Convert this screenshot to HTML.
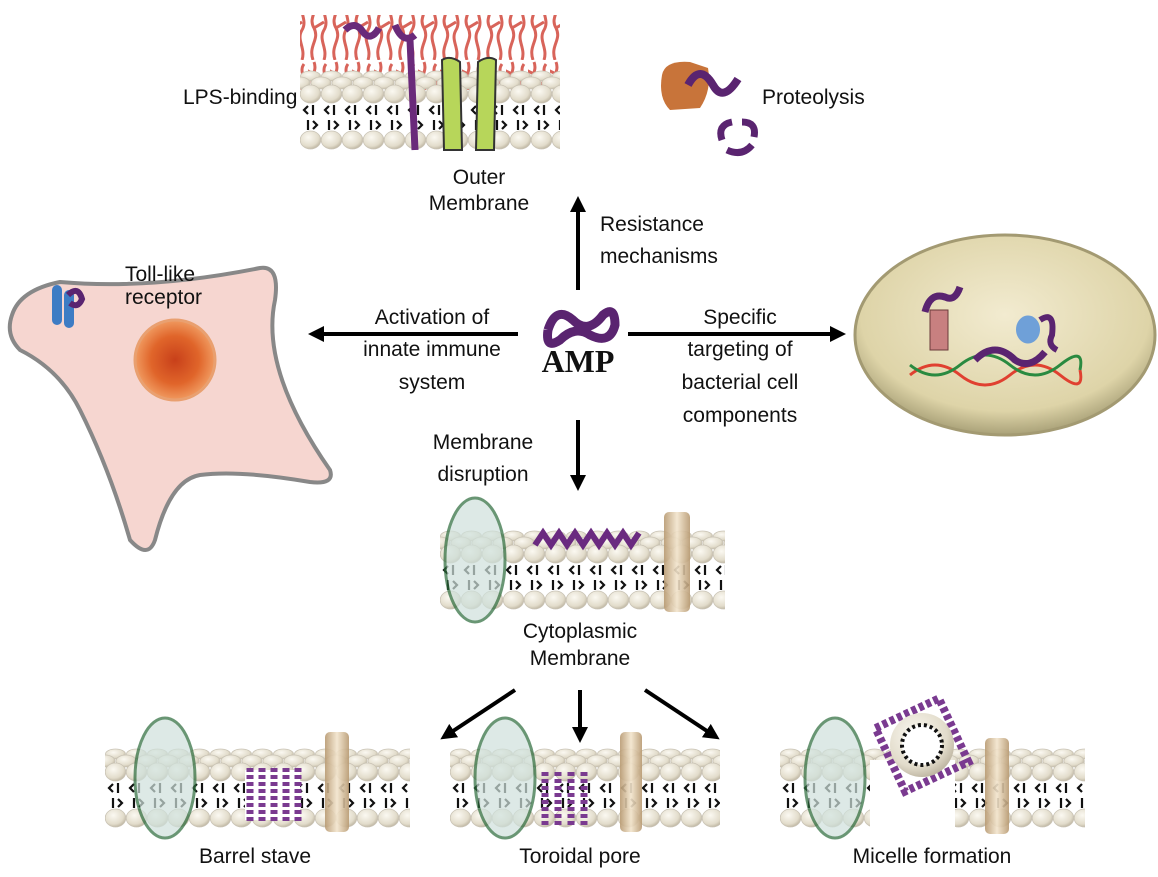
<!DOCTYPE html>
<html><head><meta charset="utf-8"><style>
html,body{margin:0;padding:0;background:#fff;}
svg{display:block;}
text{font-family:"Liberation Sans",sans-serif;font-size:21px;fill:#111;}
</style></head><body>
<svg width="1158" height="877" viewBox="0 0 1158 877" xmlns="http://www.w3.org/2000/svg">
<defs>
<radialGradient id="lip" cx="40%" cy="35%" r="70%"><stop offset="0" stop-color="#fbf9f2"/><stop offset="0.7" stop-color="#e2dccb"/><stop offset="1" stop-color="#b9b09c"/></radialGradient>
<pattern id="mem" width="21" height="80" patternUnits="userSpaceOnUse">
<ellipse cx="10.5" cy="6" rx="10" ry="5" fill="url(#lip)" stroke="#c9c3b5" stroke-width="0.8"/>
<ellipse cx="0" cy="13" rx="10" ry="6" fill="url(#lip)" stroke="#c9c3b5" stroke-width="0.8"/>
<ellipse cx="21" cy="13" rx="10" ry="6" fill="url(#lip)" stroke="#c9c3b5" stroke-width="0.8"/>
<ellipse cx="10.5" cy="24" rx="10.3" ry="9" fill="url(#lip)" stroke="#c9c3b5" stroke-width="0.8"/>
<path d="M8 36 L4 40 L8 44 M13 35 L13 45 M8 50 L8 60 M13 51 L17 55 L13 59" stroke="#111" stroke-width="2.2" fill="none"/>
<ellipse cx="10.5" cy="70" rx="10.3" ry="9" fill="url(#lip)" stroke="#c9c3b5" stroke-width="0.8"/>
</pattern>
<pattern id="lps" width="22" height="60" patternUnits="userSpaceOnUse">
<path d="M5 60 C0 45 12 40 6 28 C0 18 10 12 6 2 M16 60 C20 48 10 40 16 30 C22 20 12 12 18 4 M6 28 L16 22 M6 14 L-2 10" stroke="#d8645a" stroke-width="3" fill="none"/>
</pattern>
<radialGradient id="nuc" cx="50%" cy="50%" r="50%"><stop offset="0" stop-color="#c8401a"/><stop offset="0.6" stop-color="#e0652a"/><stop offset="1" stop-color="#f09a60"/></radialGradient>
<radialGradient id="bact" cx="50%" cy="40%" r="60%"><stop offset="0" stop-color="#f2ebd0"/><stop offset="0.8" stop-color="#ded4a8"/><stop offset="1" stop-color="#a9a178"/></radialGradient>
<linearGradient id="cyl" x1="0" x2="1"><stop offset="0" stop-color="#b89a72"/><stop offset="0.5" stop-color="#f2e4cc"/><stop offset="1" stop-color="#b89a72"/></linearGradient>
<marker id="ah" markerWidth="16" markerHeight="16" refX="8" refY="8" orient="auto" markerUnits="userSpaceOnUse"><path d="M0 0 L16 8 L0 16 Z" fill="#000"/></marker>
</defs>

<!-- Outer membrane -->
<rect x="300" y="15" width="260" height="75" fill="url(#lps)"/>
<g transform="translate(300,70)"><rect width="260" height="80" fill="url(#mem)"/></g>
<path d="M442 60 Q450 55 460 62 L462 150 L444 150 Z M478 62 Q488 55 496 60 L494 150 L476 150 Z" fill="#b7d65a" stroke="#333" stroke-width="2"/>
<path d="M345 30 q10 -10 18 2 q8 10 16 -4 M395 25 q8 20 20 10 M410 40 l5 110" stroke="#6a2a7a" stroke-width="7" fill="none"/>
<text x="183" y="104">LPS-binding</text>
<text x="479" y="184" text-anchor="middle">Outer</text>
<text x="479" y="210" text-anchor="middle">Membrane</text>

<!-- Proteolysis -->
<path d="M662 75 Q665 60 690 62 L708 68 Q712 90 700 108 L670 110 Q658 98 662 75Z" fill="#c8743a"/>
<path d="M688 85 q12 -22 25 0 q10 18 25 -6" stroke="#5a2470" stroke-width="8" fill="none"/>
<path d="M722 140 q-5 -15 10 -18 M742 122 q15 0 12 15 M752 145 q-10 12 -25 5" stroke="#5a2470" stroke-width="7" fill="none"/>
<text x="762" y="104">Proteolysis</text>

<!-- arrows -->
<line x1="578" y1="290" x2="578" y2="204" stroke="#000" stroke-width="4" marker-end="url(#ah)"/>
<text x="600" y="231">Resistance</text>
<text x="600" y="263">mechanisms</text>
<line x1="518" y1="334" x2="316" y2="334" stroke="#000" stroke-width="4" marker-end="url(#ah)"/>
<text x="432" y="324" text-anchor="middle">Activation of</text>
<text x="432" y="356" text-anchor="middle">innate immune</text>
<text x="432" y="389" text-anchor="middle">system</text>
<line x1="628" y1="334" x2="838" y2="334" stroke="#000" stroke-width="4" marker-end="url(#ah)"/>
<text x="740" y="324" text-anchor="middle">Specific</text>
<text x="740" y="356" text-anchor="middle">targeting of</text>
<text x="740" y="389" text-anchor="middle">bacterial cell</text>
<text x="740" y="422" text-anchor="middle">components</text>
<line x1="578" y1="420" x2="578" y2="483" stroke="#000" stroke-width="4" marker-end="url(#ah)"/>
<text x="483" y="449" text-anchor="middle">Membrane</text>
<text x="483" y="481" text-anchor="middle">disruption</text>

<!-- AMP -->
<path d="M548 330 q8 -25 25 -10 q15 15 30 -5 q12 -10 12 10 q-5 20 -25 10 q-15 -10 -30 5 q-15 10 -12 -10" stroke="#5a2470" stroke-width="9" fill="none"/>
<text x="578" y="372" text-anchor="middle" style="font-family:'Liberation Serif',serif;font-weight:bold;font-size:32px">AMP</text>

<!-- Host cell -->
<path d="M12 315 Q20 290 60 282 Q150 290 260 268 Q280 265 275 300 Q260 370 330 470 Q335 485 310 482 Q240 470 200 475 Q170 480 155 540 Q148 560 130 540 Q110 470 80 410 Q60 370 20 350 Q5 335 12 315Z" fill="#f6d6d0" stroke="#888" stroke-width="4"/>
<circle cx="175" cy="360" r="40" fill="url(#nuc)" stroke="#e9a070" stroke-width="3"/>
<rect x="52" y="285" width="10" height="40" rx="5" fill="#3d7cc4"/><rect x="64" y="290" width="10" height="38" rx="5" fill="#3d7cc4"/>
<path d="M68 295 q10 -10 14 4 q-4 10 -12 4" stroke="#5a2470" stroke-width="6" fill="none"/>
<text x="125" y="281">Toll-like</text>
<text x="125" y="304">receptor</text>

<!-- Bacterium -->
<ellipse cx="1005" cy="335" rx="150" ry="100" fill="url(#bact)" stroke="#a39a72" stroke-width="3"/>
<rect x="930" y="310" width="18" height="40" fill="#c88080" stroke="#6a3a3a"/>
<path d="M925 312 q5 -20 20 -15 q10 5 15 -10" stroke="#5a2470" stroke-width="7" fill="none"/>
<path d="M1040 330 a12 14 0 1 1 0 -1" fill="#6fa0d8"/>
<path d="M1040 320 q15 -10 12 15 q-5 10 5 15" stroke="#5a2470" stroke-width="6" fill="none"/>
<path d="M910 375 Q935 355 960 375 T1010 375 T1060 375 T1080 370" stroke="#e04030" stroke-width="3" fill="none"/>
<path d="M910 365 Q935 385 960 365 T1010 365 T1060 365 T1080 370" stroke="#2a8a40" stroke-width="3" fill="none"/>
<path d="M975 360 q20 -20 40 0 q15 10 30 -8" stroke="#5a2470" stroke-width="7" fill="none"/>

<!-- Cytoplasmic membrane -->
<g transform="translate(440,530)"><rect width="285" height="80" fill="url(#mem)"/></g>
<ellipse cx="475" cy="560" rx="30" ry="62" fill="#cfe1dc" opacity="0.7" stroke="#2a6a3a" stroke-width="3"/>
<rect x="664" y="512" width="26" height="100" rx="5" fill="url(#cyl)" opacity="0.9"/>
<path d="M535 545 l8 -12 l8 12 l8 -12 l8 12 l8 -12 l8 12 l8 -12 l8 12 l8 -12 l8 12 l8 -12 l8 12 l8 -12" stroke="#6a2a80" stroke-width="6" fill="none"/>
<text x="580" y="638" text-anchor="middle">Cytoplasmic</text>
<text x="580" y="665" text-anchor="middle">Membrane</text>

<line x1="515" y1="690" x2="447" y2="735" stroke="#000" stroke-width="4" marker-end="url(#ah)"/>
<line x1="580" y1="690" x2="580" y2="735" stroke="#000" stroke-width="4" marker-end="url(#ah)"/>
<line x1="645" y1="690" x2="713" y2="735" stroke="#000" stroke-width="4" marker-end="url(#ah)"/>

<!-- Barrel stave -->
<g transform="translate(105,748)"><rect width="305" height="80" fill="url(#mem)"/></g>
<ellipse cx="165" cy="778" rx="30" ry="60" fill="#cfe1dc" opacity="0.7" stroke="#2a6a3a" stroke-width="3"/>
<rect x="325" y="732" width="24" height="100" rx="5" fill="url(#cyl)" opacity="0.9"/>
<rect x="245" y="770" width="55" height="50" fill="#fff"/>
<path d="M250 768 v55 M262 768 v55 M274 768 v55 M286 768 v55 M298 768 v55" stroke="#7a3a90" stroke-width="7" stroke-dasharray="4 3"/>
<text x="255" y="863" text-anchor="middle">Barrel stave</text>

<!-- Toroidal pore -->
<g transform="translate(450,748)"><rect width="270" height="80" fill="url(#mem)"/></g>
<ellipse cx="505" cy="778" rx="30" ry="60" fill="#cfe1dc" opacity="0.7" stroke="#2a6a3a" stroke-width="3"/>
<rect x="620" y="732" width="22" height="100" rx="5" fill="url(#cyl)" opacity="0.9"/>
<path d="M545 772 v55 M558 772 v55 M571 772 v55 M584 772 v55" stroke="#7a3a90" stroke-width="7" stroke-dasharray="4 3"/>
<text x="580" y="863" text-anchor="middle">Toroidal pore</text>

<!-- Micelle -->
<g transform="translate(780,748)"><rect width="305" height="80" fill="url(#mem)"/></g>
<rect x="870" y="760" width="85" height="70" fill="#fff"/>
<ellipse cx="835" cy="778" rx="30" ry="60" fill="#cfe1dc" opacity="0.7" stroke="#2a6a3a" stroke-width="3"/>
<rect x="985" y="738" width="24" height="96" rx="5" fill="url(#cyl)" opacity="0.9"/>
<g transform="rotate(-25 922 745)">
<rect x="887" y="710" width="70" height="70" fill="none" stroke="#7a3a90" stroke-width="8" stroke-dasharray="5 3"/>
</g>
<circle cx="922" cy="745" r="32" fill="url(#lip)"/>
<circle cx="922" cy="745" r="20" fill="#fff" stroke="#111" stroke-width="4" stroke-dasharray="3 3"/>
<text x="932" y="863" text-anchor="middle">Micelle formation</text>
</svg>
</body></html>
